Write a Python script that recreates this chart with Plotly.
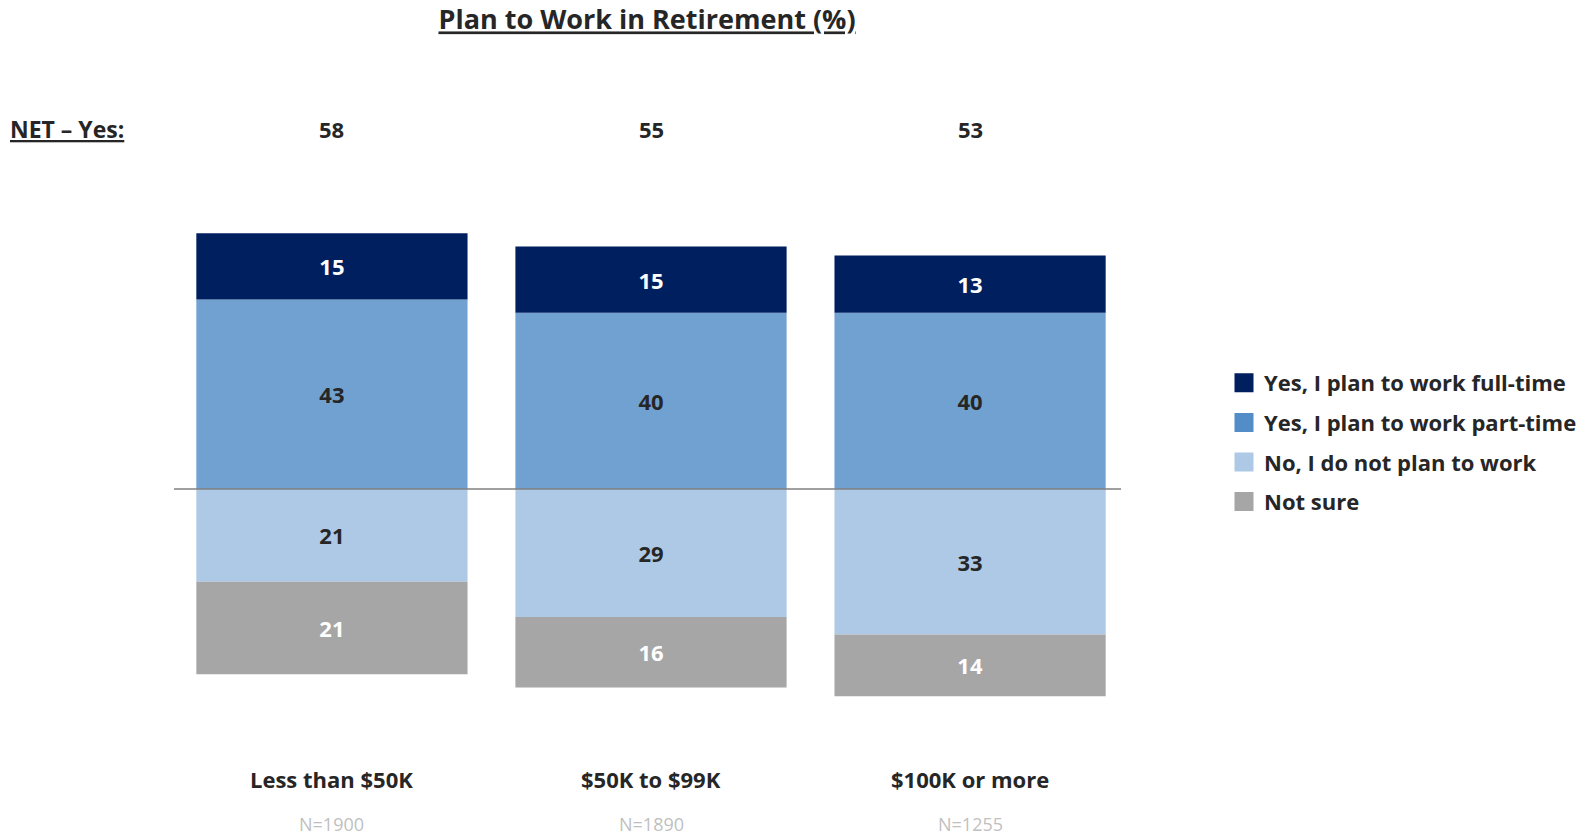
import plotly.graph_objects as go

# data
categories = ["Less than $50K", "$50K to $99K", "$100K or more"]
sample_sizes = ["N=1900", "N=1890", "N=1255"]
net_yes = [58, 55, 53]
full_time = [15, 15, 13]
part_time = [43, 40, 40]
no_plan = [21, 29, 33]
not_sure = [21, 16, 14]

FONT = "Open Sans"
DARK = "#262626"

fig = go.Figure()

# positive side stacks up from zero, negative side stacks down
series = [
    ("Yes, I plan to work part-time", part_time, 1, "#71a1d1", "#538dc8", DARK, 2),
    ("Yes, I plan to work full-time", full_time, 1, "#001f5f", "#001f5f", "white", 1),
    ("No, I do not plan to work", no_plan, -1, "#adc9e5", "#adc9e5", DARK, 3),
    ("Not sure", not_sure, -1, "#a6a6a6", "#a6a6a6", "white", 4),
]
for name, vals, sign, color, swatch, txtcolor, rank in series:
    fig.add_trace(go.Bar(
        x=categories,
        y=[sign * v for v in vals],
        name=name,
        text=[str(v) for v in vals],
        textposition="inside",
        insidetextanchor="middle",
        textangle=0,
        textfont=dict(family=FONT, size=22, color=txtcolor, weight="bold"),
        marker=dict(color=color, line=dict(width=0)),
        width=0.85,
        showlegend=False,
        hoverinfo="skip",
    ))
    # legend-only entry so the swatch is a larger square
    fig.add_trace(go.Scatter(
        x=[None], y=[None], mode="markers", name=name,
        marker=dict(symbol="square", size=22, color=swatch,
                    line=dict(color=swatch, width=3)),
        legendrank=rank, legendgroup=name, hoverinfo="skip",
    ))

fig.update_layout(
    width=1582, height=836,
    barmode="relative",
    paper_bgcolor="white", plot_bgcolor="white",
    margin=dict(l=174, r=461, t=150, b=96),
    font=dict(family=FONT, color=DARK),
    title=dict(
        text="<u><b>Plan to Work in Retirement (%)</b></u>",
        x=0.4995, xref="paper", xanchor="center",
        y=1 - 20 / 836, yref="container", yanchor="middle",
        font=dict(family=FONT, size=27, color=DARK),
    ),
    xaxis=dict(range=[-0.495, 2.473], showticklabels=False, showgrid=False,
               zeroline=False, showline=False),
    yaxis=dict(range=[-56.9, 76.9], showticklabels=False, showgrid=False,
               zeroline=False, showline=False),
    legend=dict(
        xref="container", yref="container",
        x=1224 / 1582, y=1 - 362 / 836, xanchor="left", yanchor="top",
        font=dict(family=FONT, size=22, color=DARK, weight="bold"),
        tracegroupgap=8, itemwidth=30, bgcolor="rgba(0,0,0,0)",
    ),
    showlegend=True,
)

# baseline between yes and no
fig.add_shape(type="line", xref="paper", yref="y", x0=0, x1=1, y0=0, y1=0,
              line=dict(color="#808080", width=1.5))

fig.add_annotation(text="<u><b>NET – Yes:</b></u>", xref="paper", yref="paper",
                   x=-0.1758, y=1.036, xanchor="left", yanchor="middle",
                   showarrow=False, font=dict(family=FONT, size=23, color=DARK))

for cat, net, n in zip(categories, net_yes, sample_sizes):
    fig.add_annotation(text=f"<b>{net}</b>", x=cat, xref="x", yref="paper",
                       y=1.036, showarrow=False, yanchor="middle",
                       font=dict(family=FONT, size=22, color=DARK))
    fig.add_annotation(text=f"<b>{cat}</b>", x=cat, xref="x", yref="paper",
                       y=-0.066, showarrow=False, yanchor="middle",
                       font=dict(family=FONT, size=22, color=DARK))
    fig.add_annotation(text=n, x=cat, xref="x", yref="paper",
                       y=-0.142, showarrow=False, yanchor="middle",
                       font=dict(family=FONT, size=18, color="#bfbfbf"))

fig.write_html("out.html", config={"displayModeBar": False},
               post_script="document.body.style.margin='0';")
